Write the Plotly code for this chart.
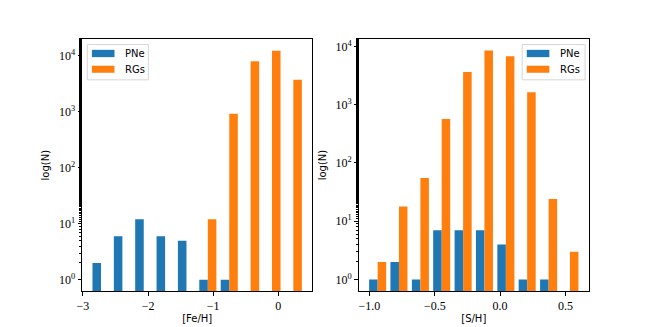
import plotly.graph_objects as go
from plotly.subplots import make_subplots

# ------------------------------------------------------------
# Histogram counts (10 bins per panel)
# ------------------------------------------------------------
fe_centers = [-2.723, -2.395, -2.067, -1.739, -1.411, -1.083, -0.754, -0.426, -0.098, 0.230]
fe_pne = [2, 6, 12, 6, 5, 1, 1, None, None, None]
fe_rgs = [None, None, None, None, None, 12, 920, 8000, 12300, 3750]

s_centers = [-0.937, -0.774, -0.610, -0.447, -0.283, -0.120, 0.044, 0.207, 0.371, 0.534]
s_pne = [1, 2, 1, 7, 7, 7, 4, 1, 1, None]
s_rgs = [2, 18, 55, 570, 3650, 8500, 6800, 1630, 24, 3]

fe_ticks = [-3, -2, -1, 0]
fe_ticktext = ["\u22123", "\u22122", "\u22121", "0"]
s_ticks = [-1.0, -0.5, 0.0, 0.5]
s_ticktext = ["\u22121.0", "\u22120.5", "0.0", "0.5"]
y_ticks = [1, 10, 100, 1000, 10000]
y_ticktext = ["10<sup>%d</sup>" % i for i in range(5)]

BLUE = "#1f77b4"
ORANGE = "#ff7f0e"
SERIF = "'Liberation Serif', 'DejaVu Serif', serif"
SANS = "'DejaVu Sans', sans-serif"

fig = make_subplots(rows=1, cols=2, horizontal_spacing=0.091)

for col, (xc, pne, rgs) in enumerate([(fe_centers, fe_pne, fe_rgs),
                                      (s_centers, s_pne, s_rgs)], start=1):
    fig.add_trace(go.Bar(x=xc, y=pne, name="PNe", marker=dict(color=BLUE, line=dict(width=0)),
                         showlegend=False), row=1, col=col)
    fig.add_trace(go.Bar(x=xc, y=rgs, name="RGs", marker=dict(color=ORANGE, line=dict(width=0)),
                         showlegend=False), row=1, col=col)

axis_common = dict(showline=True, linecolor="black", linewidth=1, mirror=True,
                   ticks="outside", ticklen=3.5, tickwidth=1, tickcolor="black",
                   showgrid=False, zeroline=False, automargin=False,
                   tickfont=dict(family=SERIF, size=12, color="black"))

fig.update_xaxes(**axis_common)
fig.update_yaxes(**axis_common)

fig.update_xaxes(range=[-3.015, 0.523], tickvals=fe_ticks, ticktext=fe_ticktext,
                 title=dict(text="[Fe/H]", font=dict(family=SANS, size=10, color="black"), standoff=3),
                 row=1, col=1)
fig.update_xaxes(range=[-1.083, 0.680], tickvals=s_ticks, ticktext=s_ticktext,
                 title=dict(text="[S/H]", font=dict(family=SANS, size=10, color="black"), standoff=3),
                 row=1, col=2)

for col, rng in [(1, [-0.2, 4.3]), (2, [-0.197, 4.128])]:
    fig.update_yaxes(type="log", range=rng, tickvals=y_ticks, ticktext=y_ticktext,
                     minor=dict(ticks="outside", ticklen=2, tickcolor="black", showgrid=False),
                     row=1, col=col)

# y-axis labels placed as rotated annotations (paper coords) for exact offset
for xpos in [-0.072, 0.474]:
    fig.add_annotation(xref="paper", yref="paper", x=xpos, y=0.5, text="log(N)", textangle=-90,
                       showarrow=False, xanchor="center", yanchor="middle",
                       font=dict(family=SANS, size=10, color="black"))

# matplotlib-style legends drawn in axes-domain coordinates
legend_boxes = [("x domain", "y domain", 0.023, 0.288, 0.043, 0.141, 0.180),
                ("x2 domain", "y2 domain", 0.710, 0.983, 0.730, 0.828, 0.866)]
for xr, yr, bx0, bx1, px0, px1, tx in legend_boxes:
    fig.add_shape(type="rect", xref=xr, yref=yr, x0=bx0, x1=bx1, y0=0.838, y1=0.978,
                  line=dict(color="#d6d6d6", width=1), fillcolor="rgba(255,255,255,0.8)", layer="above")
    for label, color, y0, y1, ty in [("PNe", BLUE, 0.928, 0.957, 0.943),
                                     ("RGs", ORANGE, 0.866, 0.894, 0.880)]:
        fig.add_shape(type="rect", xref=xr, yref=yr, x0=px0, x1=px1, y0=y0, y1=y1,
                      line=dict(width=0), fillcolor=color, layer="above")
        fig.add_annotation(xref=xr, yref=yr, x=tx, y=ty, text=label, showarrow=False,
                           xanchor="left", yanchor="middle",
                           font=dict(family=SANS, size=10, color="black"))

# margins compensate for the page's 8px body offset
fig.update_layout(
    width=654, height=327,
    margin=dict(l=74, r=73, t=31, b=44),
    barmode="group", bargap=0.2, bargroupgap=0,
    plot_bgcolor="white", paper_bgcolor="white",
    showlegend=False,
)

fig.write_html("out.html")
